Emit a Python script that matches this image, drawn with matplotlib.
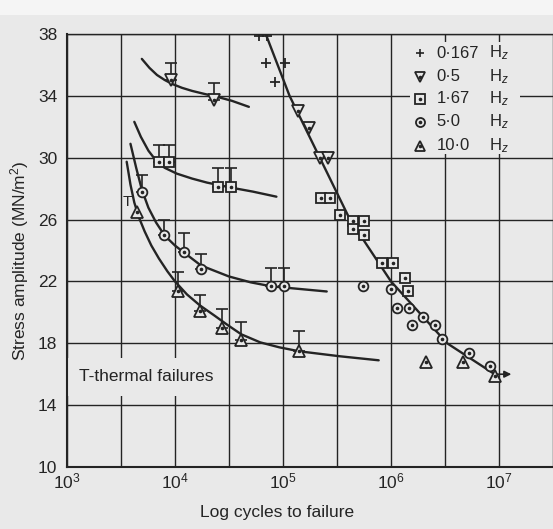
import matplotlib
matplotlib.use('Agg')
import matplotlib.pyplot as plt
from matplotlib.patches import Rectangle
from matplotlib.ticker import NullFormatter

plt.rcParams['font.family'] = ['Liberation Sans', 'DejaVu Sans']
plt.rcParams['mathtext.fontset'] = 'custom'
plt.rcParams['mathtext.rm'] = 'Liberation Sans'
plt.rcParams['mathtext.it'] = 'Liberation Sans:italic'

INK = '#242424'
BG = '#e9e9e9'

# ---- data (cycles, stress MN/m^2) ----
# points on the main S-N line (no thermal failure)
f0167_x = [6.03e4, 7.08e4, 6.92e4, 1.05e5, 8.51e4]
f0167_y = [37.9, 37.9, 36.1, 36.1, 34.9]
f05_x = [1.38e5, 1.74e5, 2.19e5, 2.63e5]
f05_y = [33.0, 31.9, 30.0, 30.0]
f167_x = [2.24e5, 2.75e5, 3.39e5, 4.47e5, 5.62e5, 4.47e5, 5.62e5,
          8.32e5, 1.047e6, 1.349e6, 1.445e6]
f167_y = [27.4, 27.4, 26.3, 25.9, 25.9, 25.4, 25.0, 23.2, 23.2, 22.2, 21.4]
f50_x = [5.50e5, 1.0e6, 1.148e6, 1.479e6, 1.549e6, 1.995e6, 2.570e6,
         2.951e6, 5.248e6, 8.318e6]
f50_y = [21.7, 21.5, 20.3, 20.3, 19.2, 19.7, 19.2, 18.3, 17.4, 16.5]
f10_x = [2.089e6, 4.677e6, 9.12e6]
f10_y = [16.8, 16.8, 15.9]

# thermal failures (marked T), with height of the T above the point
t05_x = [9.12e3, 2.29e4]
t05_y = [35.0, 33.7]
t05_h = [1.1, 1.1]
t167_x = [7.08e3, 8.71e3, 2.51e4, 3.31e4]
t167_y = [29.7, 29.7, 28.1, 28.1]
t167_h = [1.1, 1.1, 1.25, 1.25]
t50_x = [4.90e3, 7.94e3, 1.20e4, 1.74e4, 7.76e4, 1.02e5]
t50_y = [27.8, 25.0, 23.9, 22.8, 21.7, 21.7]
t50_h = [1.1, 1.0, 1.2, 1.0, 1.2, 1.2]
t10_x = [1.07e4, 1.70e4, 2.75e4, 4.07e4, 1.41e5]
t10_y = [21.4, 20.1, 19.0, 18.2, 17.5]
t10_h = [1.2, 1.0, 1.2, 1.2, 1.3]
t10_side_x = [4.47e3]      # this one has its T written beside it
t10_side_y = [26.5]

# hand drawn fit curves
c05_x = [4.93e3, 5.80e3, 6.81e3, 8.01e3, 9.42e3, 1.16e4, 1.44e4, 1.86e4,
         2.45e4, 3.36e4, 4.83e4]
c05_y = [36.39, 35.81, 35.35, 35.03, 34.77, 34.52, 34.32, 34.13, 33.94,
         33.68, 33.29]
c167_x = [4.20e3, 4.83e3, 5.68e3, 6.68e3, 8.01e3, 1.04e4, 1.44e4, 1.98e4,
          2.72e4, 3.72e4, 5.24e4, 8.69e4]
c167_y = [32.32, 31.35, 30.45, 29.81, 29.35, 28.97, 28.65, 28.39, 28.19,
          28.0, 27.81, 27.48]
c50_x = [3.87e3, 4.37e3, 4.93e3, 5.67e3, 6.68e3, 8.01e3, 1.0e4, 1.21e4,
         1.74e4, 3.16e4, 5.03e4, 7.85e4, 2.54e5]
c50_y = [30.90, 29.35, 27.94, 26.77, 25.81, 24.97, 24.32, 23.87, 23.03,
         22.32, 21.94, 21.68, 21.35]
c10_x = [3.57e3, 3.87e3, 4.20e3, 4.64e3, 5.24e3, 6.04e3, 7.10e3, 8.51e3,
         1.0e4, 1.29e4, 1.70e4, 2.30e4, 3.10e4, 4.11e4, 6.15e4, 9.23e4,
         1.42e5, 3.36e5, 7.69e5]
c10_y = [29.74, 28.26, 27.10, 26.13, 25.23, 24.32, 23.48, 22.65, 22.0,
         21.16, 20.45, 19.81, 19.16, 18.58, 18.06, 17.74, 17.48, 17.16, 16.90]
main_x = [6.92e4, 1.15e5, 2.19e5, 4.17e5, 1.0e6, 3.31e6, 9.12e6]
main_y = [38.0, 34.0, 30.0, 26.0, 22.0, 18.0, 16.0]
runout_x = [9.12e6, 1.38e7]
runout_y = 16.0

legend_freq = ['0·167', '0·5', '1·67', '5·0', '10·0']
legend_mark = ['+', 'v', 's', 'o', '^']

xticks = [1e3, 1e4, 1e5, 1e6, 1e7]
xminor = [3.162e3, 3.162e4, 3.162e5, 3.162e6, 3.162e7]
yticks = [10, 14, 18, 22, 26, 30, 34, 38]


def dotted_marker(ax, x, y, m, ms, **kw):
    # open marker with a small dot in the middle, as in the print
    ax.plot(x, y, ls='none', marker=m, ms=ms, mfc=BG, mec=INK, mew=1.3,
            zorder=5, **kw)
    ax.plot(x, y, ls='none', marker='o', ms=1.6, mfc=INK, mec=INK,
            zorder=6, **kw)


fig = plt.figure(figsize=(5.53, 5.29), dpi=100, facecolor=BG)
fig.patches.append(Rectangle((0, 1 - 15 / 529), 1, 15 / 529,
                             transform=fig.transFigure, facecolor='#f5f5f5',
                             edgecolor='none', zorder=-1))
ax = fig.add_axes([67 / 553, 62 / 529, 486 / 553, 433 / 529])
ax.set_facecolor(BG)
ax.set_xscale('log')
ax.set_xlim(1e3, 2.33e7)
ax.set_ylim(10, 38)
ax.set_xticks(xticks)
ax.set_xticks(xminor, minor=True)
ax.xaxis.set_minor_formatter(NullFormatter())
ax.set_yticks(yticks)
ax.set_axisbelow(True)
ax.grid(True, which='both', color=INK, lw=1.0)
ax.tick_params(which='both', length=0, labelsize=12.5, colors=INK)
ax.tick_params(axis='x', pad=3)
ax.tick_params(axis='y', pad=7)
for side in ('left', 'bottom'):
    ax.spines[side].set_linewidth(1.5)
    ax.spines[side].set_color(INK)
    ax.spines[side].set_zorder(7)
ax.spines['top'].set_linewidth(1.0)
ax.spines['top'].set_color(INK)
ax.spines['right'].set_visible(False)

# fitted curves
for cx, cy in [(c05_x, c05_y), (c167_x, c167_y), (c50_x, c50_y),
               (c10_x, c10_y), (main_x, main_y)]:
    ax.plot(cx, cy, color=INK, lw=1.7, solid_joinstyle='round',
            solid_capstyle='round', zorder=4)

ax.annotate('', xy=(runout_x[1], runout_y), xytext=(runout_x[0], runout_y),
            arrowprops=dict(arrowstyle='-|>', color=INK, lw=1.2,
                            mutation_scale=10), zorder=4)

# T marks for thermal failures
for tx, ty, th in [(t05_x, t05_y, t05_h), (t167_x, t167_y, t167_h),
                   (t50_x, t50_y, t50_h), (t10_x, t10_y, t10_h)]:
    ax.errorbar(tx, ty, yerr=[[0] * len(th), th], fmt='none', ecolor=INK,
                elinewidth=1.2, capsize=4, capthick=1.2, zorder=4)
for sx, sy in zip(t10_side_x, t10_side_y):
    ax.annotate('T', (sx, sy), xytext=(-7, 2), textcoords='offset points',
                fontsize=11, color=INK, ha='center', va='bottom', zorder=6)

# data points
ax.plot(f0167_x, f0167_y, ls='none', marker='+', ms=7, mew=1.3, color=INK, zorder=5)
dotted_marker(ax, f05_x + t05_x, f05_y + t05_y, 'v', 8)
dotted_marker(ax, f167_x + t167_x, f167_y + t167_y, 's', 7)
dotted_marker(ax, f50_x + t50_x, f50_y + t50_y, 'o', 7)
dotted_marker(ax, f10_x + t10_x + t10_side_x, f10_y + t10_y + t10_side_y, '^', 8.5)

# legend, drawn by hand so the Hz column lines up
ax.add_patch(Rectangle((0.706, 0.723), 0.226, 0.259, transform=ax.transAxes,
                       facecolor=BG, edgecolor='none', zorder=3))
row_y = [0.956, 0.901, 0.850, 0.797, 0.742]
for yy, lab, m in zip(row_y, legend_freq, legend_mark):
    if m == '+':
        ax.plot([0.726], [yy], transform=ax.transAxes, ls='none', marker='+',
                ms=6, mew=1.2, color=INK, zorder=5)
    else:
        dotted_marker(ax, [0.726], [yy], m, 6.5, transform=ax.transAxes)
    ax.text(0.760, yy, lab, transform=ax.transAxes, fontsize=12, color=INK,
            va='center', ha='left', zorder=5)
    ax.text(0.868, yy, 'H$_z$', transform=ax.transAxes, fontsize=12, color=INK,
            va='center', ha='left', zorder=5)

ax.text(0.024, 0.208, 'T-thermal failures', transform=ax.transAxes,
        fontsize=12.5, color=INK, va='center', ha='left', zorder=3,
        bbox=dict(facecolor=BG, edgecolor='none', pad=8))

fig.text(20 / 553, 1 - 261 / 529, 'Stress amplitude (MN/m$^2$)', rotation=90,
         fontsize=12.5, color=INK, ha='center', va='center')
fig.text(277 / 553, 1 - 513 / 529, 'Log cycles to failure', fontsize=12.5,
         color=INK, ha='center', va='center')

fig.savefig('out.png', dpi=100, facecolor=BG)
